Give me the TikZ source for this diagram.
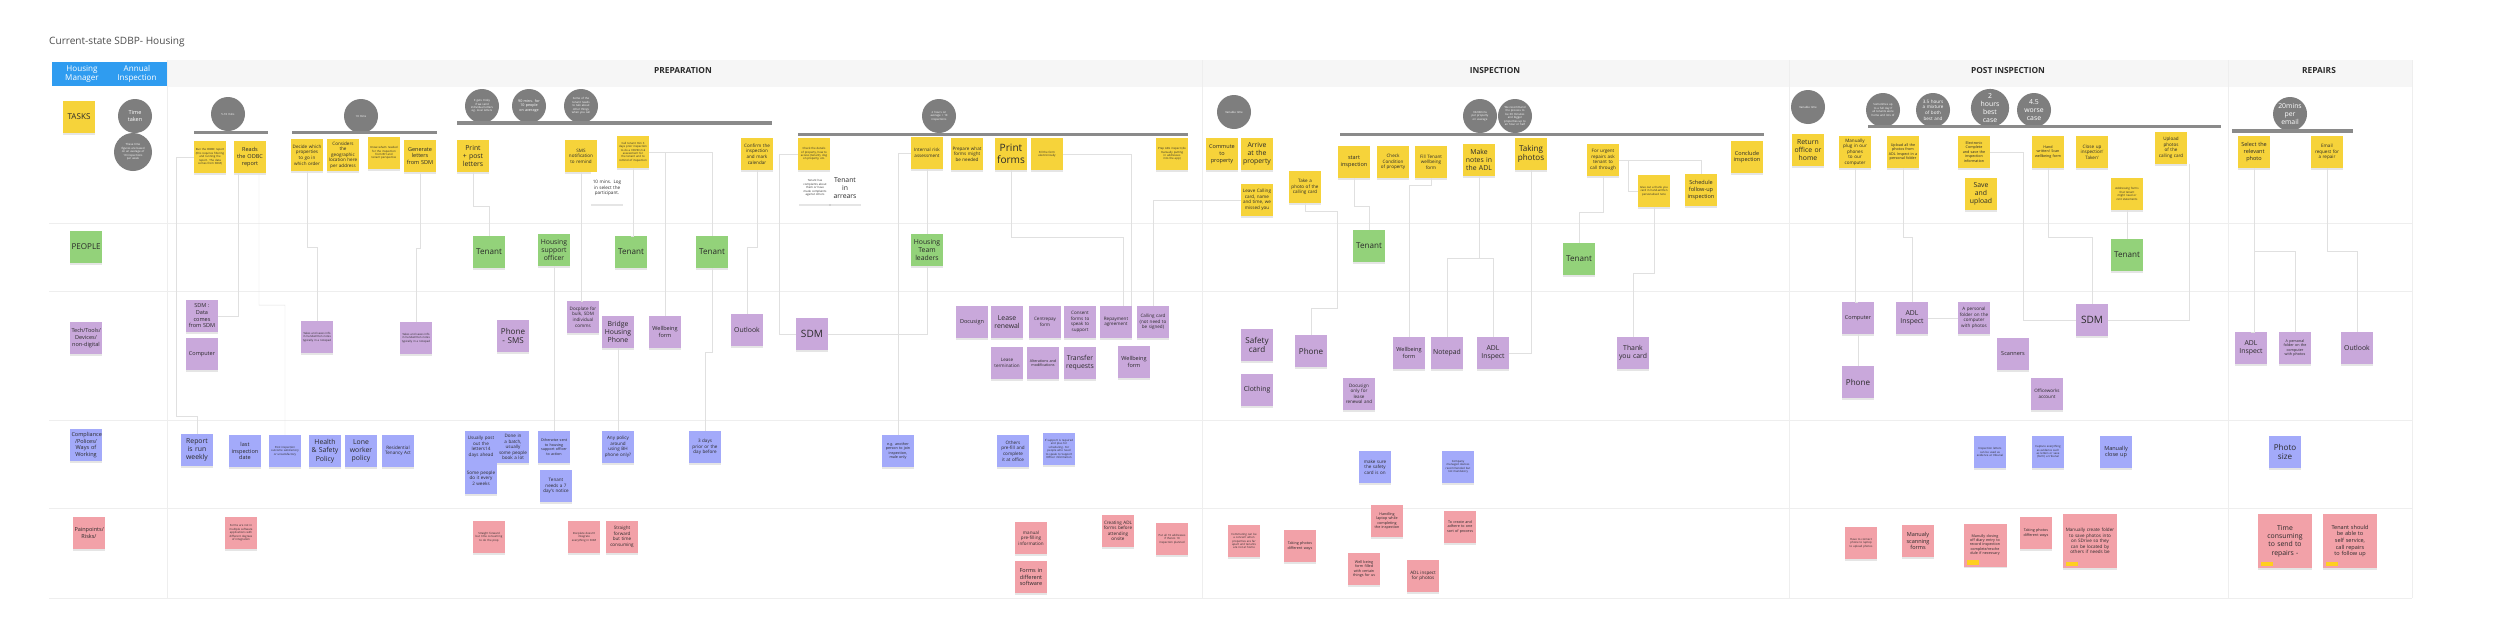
\documentclass[tikz,border=0pt]{standalone}
\usepackage{fontspec}
\setmainfont{Open Sans}
\usetikzlibrary{positioning,shadows}
\hyphenpenalty=10000
\exhyphenpenalty=10000
\definecolor{noteyellow}{HTML}{F6D33A}
\definecolor{notegreen}{HTML}{93D27A}
\definecolor{notepurple}{HTML}{C9A8DB}
\definecolor{noteblue}{HTML}{A3AAFA}
\definecolor{notepink}{HTML}{F2A1A8}
\definecolor{tagyellow}{HTML}{FFCF1F}
\definecolor{timegray}{HTML}{7E7E7E}
\definecolor{bargray}{HTML}{8A8A8A}
\definecolor{headblue}{HTML}{2F9CF0}
\definecolor{bandgray}{HTML}{F6F6F6}
\definecolor{gridgray}{HTML}{EEEEEE}
\definecolor{wiregray}{HTML}{E0E0E0}
\definecolor{inkdark}{HTML}{2A2A2A}
\newcommand{\fsA}{\fontsize{11.5}{13.5}\selectfont}
\newcommand{\fsB}{\fontsize{9.2}{11}\selectfont}
\newcommand{\fsC}{\fontsize{7.8}{9.4}\selectfont}
\newcommand{\fsD}{\fontsize{6.3}{7.6}\selectfont}
\newcommand{\fsE}{\fontsize{5.2}{6.3}\selectfont}
\newcommand{\fsF}{\fontsize{4.2}{5.1}\selectfont}
\newcommand{\fsG}{\fontsize{3.2}{3.9}\selectfont}
\tikzset{
  sticky/.style={minimum width=12.8mm, minimum height=12.8mm, text width=11.6mm, align=center, inner sep=0.4mm, text=inkdark,
    drop shadow={opacity=0.2, shadow xshift=0mm, shadow yshift=-0.7mm}},
  task/.style={sticky, fill=noteyellow},
  who/.style={sticky, fill=notegreen},
  tool/.style={sticky, fill=notepurple},
  policy/.style={sticky, fill=noteblue},
  pain/.style={sticky, fill=notepink},
  memo/.style={sticky, fill=white},
  bignote/.style={minimum width=21.6mm, minimum height=21.6mm, text width=19.6mm},
  timer/.style={circle, fill=timegray, text=white, minimum size=13.6mm, text width=9.6mm, align=center, inner sep=0pt},
  bar/.style={fill=bargray},
  wire/.style={draw=wiregray, line width=0.5pt},
  gridline/.style={draw=gridgray, line width=0.8pt},
  section/.style={font=\fontsize{9.5}{11}\selectfont\bfseries, text=inkdark},
  tagmark/.style={fill=tagyellow, minimum width=4.8mm, minimum height=1.8mm, inner sep=0pt}
}
\begin{document}
\begin{tikzpicture}[x=0.4mm, y=-0.4mm]
  \useasboundingbox (0,0) rectangle (2500,617);
  \fill[white] (0,0) rectangle (2500,617);
  \fill[bandgray] (167,60) rectangle (2412,87);
  \foreach \y in {223,291,420,508,598} \draw[gridline] (49,\y) -- (2412,\y);
  \foreach \x in {167,1202,1789,2228,2412} \draw[gridline] (\x,60) -- (\x,598);

  \node[anchor=west, inner sep=0, text=black!70, font=\fontsize{11.5}{14}\selectfont] (title) at (49,42) {Current-state SDBP- Housing};
  \node[fill=headblue, minimum width=46mm, minimum height=9.6mm, inner sep=0] (header) at (109.5,74) {};
  \node[text=white, align=center, font=\fsB] (role) at (82,74) {Housing\\Manager};
  \node[text=white, align=center, font=\fsB] (journey) at (137,74) {Annual\\Inspection};
  \node[section] (prep) at (683,71) {PREPARATION};
  \node[section] (insp) at (1495,71) {INSPECTION};
  \node[section] (post) at (2008,71) {POST INSPECTION};
  \node[section] (repairs) at (2319,71) {REPAIRS};

  \node[task, font=\fsB] (tasks) at (79,117) {TASKS};
  \node[timer, font=\fsD] (timetaken) at (135,116) {Time taken};
  \node[timer, minimum size=15.2mm, font=\fsG] (timebasis) at (133,152) {These time figures are based on an average of 10 inspections per week};
  \node[who, font=\fsB] (people) at (86,247) {PEOPLE};
  \node[tool, font=\fsD] (techhead) at (86,338) {Tech/Tools/ Devices/ non-digital};
  \node[policy, font=\fsD] (rulehead) at (86,445) {Compliance /Polices/ Ways of Working};
  \node[pain, font=\fsD] (painhead) at (89,533) {Painpoints/ Risks/};

  \node[timer, font=\fsG] (t1) at (228,114) {5-10 mins};
  \node[timer, font=\fsG] (t2) at (361,116) {10 mins};
  \node[timer, font=\fsG] (t3) at (482,106) {It gets tricky if we send individual letters eg. local letters};
  \node[timer, font=\fsF] (t4) at (529,106) {90 mins. for 10 people on average};
  \node[timer, font=\fsG] (t5) at (581,106) {Some of the tenant needs to talk about other things when you call};
  \node[timer, font=\fsG] (t6) at (939,116) {2 hours on average + 10 inspections};
  \node[timer, font=\fsG] (t7) at (1234,112) {Variable time};
  \node[timer, font=\fsG] (t8) at (1480,116) {30-60mins per property on average};
  \node[timer, font=\fsG] (t9) at (1515,116) {We recommend the process to be 30 minutes and bigger properties up to an hour or half};
  \node[timer, font=\fsG] (t10) at (1808,107) {Variable time};
  \node[timer, font=\fsG] (t11) at (1883,110) {Sometimes up to a full day if all tenants were home and lots of};
  \node[timer, font=\fsE] (t12) at (1933,110) {3.5 hours a mixture of both best and};
  \node[timer, font=\fsC] (t13) at (1990,108) {2 hours best case};
  \node[timer, font=\fsC] (t14) at (2034,110) {4.5 worse case};
  \node[timer, font=\fsC] (t15) at (2290,114) {20mins per email};

  \fill[bar] (194,131) rectangle (268,134);
  \fill[bar] (292,131) rectangle (437,134);
  \fill[bar] (457,121) rectangle (772,125);
  \fill[bar] (798,133) rectangle (1188,136);
  \fill[bar] (1340,133) rectangle (1764,136);
  \fill[bar] (1868,125) rectangle (2221,128);
  \fill[bar] (2232,129) rectangle (2353,133);

  \node[task, font=\fsG] (run) at (210,157) {Run the ODBC report (this requires filtering and running the report. The data comes from SDM)};
  \node[task, font=\fsD] (reads) at (250,157) {Reads the ODBC report};
  \node[task, font=\fsE] (decide) at (307,155) {Decide which properties to go in which order};
  \node[task, font=\fsE] (considers) at (343,155) {Considers the geographic location here per address};
  \node[task, font=\fsG] (knowneeds) at (384,153) {Know what's needed for the inspection from BH and tenant perspective};
  \node[task, font=\fsD] (generate) at (420,156) {Generate letters from SDM};
  \node[task, font=\fsC] (printpost) at (473,156) {Print + post letters};
  \node[task, font=\fsE] (sms) at (581,156) {SMS notification to remind};
  \node[task, font=\fsG] (calltenant) at (633,152) {Call tenant min 3 days prior inspection to do a COVID risk assessment for the tenant and to remind of inspection};
  \node[task, font=\fsE] (confirm) at (757,154) {Confirm the inspection and mark calendar};
  \node[task, font=\fsG] (checkdetails) at (814,154) {Check the details of property, how to access (tenant), dog on property, etc.};
  \node[memo, font=\fsE] (loginnote) at (607,188) {10 mins. Log in select the participant.};
  \node[memo, font=\fsG] (complaints) at (815,188) {Tenant has complaints about them or have made complaints against others};
  \node[memo, font=\fsC] (arrears) at (845,188) {Tenant in arrears};
  \node[task, font=\fsE] (riskassess) at (927,153) {Internal risk assessment};
  \node[task, font=\fsE] (prepforms) at (967,154) {Prepare what forms might be needed};
  \node[task, font=\fsA] (printforms) at (1011,154) {Print forms};
  \node[task, font=\fsG] (fillforms) at (1047,154) {Fill the form electronically};
  \node[task, font=\fsG] (prepadl) at (1172,154) {Prep ADL inspect (do manually putting in addresses into the app)};
  \node[task, font=\fsD] (commute) at (1222,154) {Commute to property};
  \node[task, font=\fsC] (arrive) at (1257,154) {Arrive at the property};
  \node[task, font=\fsE] (leavecard) at (1257,200) {Leave Calling card, name and time, we missed you};
  \node[task, font=\fsE] (photocard) at (1305,187) {Take a photo of the calling card};
  \node[task, font=\fsD] (startinsp) at (1354,162) {start inspection};
  \node[task, font=\fsE] (checkcond) at (1393,162) {Check Condition of property};
  \node[task, font=\fsE] (fillwb) at (1431,162) {Fill Tenant wellbeing form};
  \node[task, font=\fsC] (makenotes) at (1479,160) {Make notes in the ADL};
  \node[task, font=\fsB] (takingphotos) at (1531,154) {Taking photos};
  \node[task, font=\fsE] (urgent) at (1603,160) {For urgent repairs ask tenant to call through};
  \node[task, font=\fsG] (thankout) at (1654,191) {Give out a thank you card in hand-written personalised note};
  \node[task, font=\fsD] (schedule) at (1701,190) {Schedule follow-up inspection};
  \node[task, font=\fsD] (conclude) at (1747,157) {Conclude inspection};
  \node[task, font=\fsC] (returnoffice) at (1808,150) {Return office or home};
  \node[task, font=\fsE] (plugin) at (1855,152) {Manually plug in our phones to our computer};
  \node[task, font=\fsF] (uploadall) at (1903,152) {Upload all the photos from ADL Inspect in a personal folder};
  \node[task, font=\fsF] (electronic) at (1974,152) {Electronic Complete and save the inspection information};
  \node[task, font=\fsC] (saveupload) at (1981,194) {Save and upload};
  \node[task, font=\fsF] (handwritten) at (2048,152) {Hand written/ Scan wellbeing form};
  \node[task, font=\fsE] (closeup) at (2092,152) {Close up inspection' Taken'};
  \node[task, font=\fsE] (uploadcard) at (2171,148) {Upload photos of the calling card};
  \node[task, font=\fsG] (addressing) at (2127,194) {Addressing forms that tenant might need or rent statements};
  \node[task, font=\fsD] (selectphoto) at (2254,152) {Select the relevant photo};
  \node[task, font=\fsE] (emailrepair) at (2327,152) {Email request for a repair};

  \node[who, font=\fsB] (tenantA) at (489,252) {Tenant};
  \node[who, font=\fsC] (hso) at (554,250) {Housing support officer};
  \node[who, font=\fsB] (tenantB) at (631,252) {Tenant};
  \node[who, font=\fsB] (tenantC) at (712,252) {Tenant};
  \node[who, font=\fsC] (teamleaders) at (927,250) {Housing Team leaders};
  \node[who, font=\fsB] (tenantD) at (1369,246) {Tenant};
  \node[who, font=\fsB] (tenantE) at (1579,259) {Tenant};
  \node[who, font=\fsB] (tenantF) at (2127,255) {Tenant};

  \node[tool, font=\fsD] (sdmdata) at (202,316) {SDM : Data comes from SDM};
  \node[tool, font=\fsD] (computerA) at (202,354) {Computer};
  \node[tool, font=\fsG] (notebookA) at (317,337) {Takes and saves info in handwritten notes typically in a notepad};
  \node[tool, font=\fsG] (notebookB) at (416,338) {Takes and saves info in handwritten notes typically in a notepad};
  \node[tool, font=\fsB] (phonesms) at (513,336) {Phone - SMS};
  \node[tool, font=\fsE] (docplate) at (583,317) {Docplate for bulk, SDM individual comms};
  \node[tool, font=\fsC] (bhphone) at (618,332) {Bridge Housing Phone};
  \node[tool, font=\fsD] (wbformA) at (665,332) {Wellbeing form};
  \node[tool, font=\fsC] (outlookA) at (747,330) {Outlook};
  \node[tool, font=\fsA] (sdmA) at (812,334) {SDM};
  \node[tool, font=\fsD] (docusign) at (972,322) {Docusign};
  \node[tool, font=\fsC] (leaserenew) at (1007,322) {Lease renewal};
  \node[tool, font=\fsE] (centrepay) at (1045,322) {Centrepay form};
  \node[tool, font=\fsE] (consent) at (1080,322) {Consent forms to speak to support};
  \node[tool, font=\fsE] (repayment) at (1116,322) {Repayment agreement};
  \node[tool, font=\fsE] (callingcard) at (1153,322) {Calling card (not need to be signed)};
  \node[tool, font=\fsE] (leaseterm) at (1007,363) {Lease termination};
  \node[tool, font=\fsF] (alterations) at (1043,363) {Alterations and modifications};
  \node[tool, font=\fsC] (transfer) at (1080,363) {Transfer requests};
  \node[tool, font=\fsD] (wbformB) at (1134,362) {Wellbeing form};
  \node[tool, font=\fsB] (safetycard) at (1257,345) {Safety card};
  \node[tool, font=\fsC] (clothing) at (1257,390) {Clothing};
  \node[tool, font=\fsB] (phoneB) at (1311,351) {Phone};
  \node[tool, font=\fsE] (docusignonly) at (1359,394) {Docusign only for lease renewal and};
  \node[tool, font=\fsD] (wbformC) at (1409,353) {Wellbeing form};
  \node[tool, font=\fsC] (notepad) at (1447,353) {Notepad};
  \node[tool, font=\fsC] (adlA) at (1493,353) {ADL Inspect};
  \node[tool, font=\fsC] (thankcard) at (1633,353) {Thank you card};
  \node[tool, font=\fsD] (computerB) at (1858,318) {Computer};
  \node[tool, font=\fsC] (adlB) at (1912,318) {ADL Inspect};
  \node[tool, font=\fsE] (folderA) at (1974,318) {A personal folder on the computer with photos};
  \node[tool, font=\fsA] (sdmB) at (2092,320) {SDM};
  \node[tool, font=\fsB] (phoneC) at (1858,382) {Phone};
  \node[tool, font=\fsD] (scanners) at (2013,354) {Scanners};
  \node[tool, font=\fsE] (officeworks) at (2047,394) {Officeworks account};
  \node[tool, font=\fsC] (adlC) at (2251,348) {ADL Inspect};
  \node[tool, font=\fsF] (folderB) at (2295,348) {A personal folder on the computer with photos};
  \node[tool, font=\fsC] (outlookB) at (2357,348) {Outlook};

  \node[policy, font=\fsC] (reportweekly) at (197,450) {Report is run weekly};
  \node[policy, font=\fsD] (lastinsp) at (245,451) {last inspection date};
  \node[policy, font=\fsG] (postoutcome) at (285,451) {Post inspection outcome satisfactory or unsatisfactory};
  \node[policy, font=\fsC] (whs) at (325,451) {Health \& Safety Policy};
  \node[policy, font=\fsC] (loneworker) at (361,451) {Lone worker policy};
  \node[policy, font=\fsE] (rta) at (398,451) {Residential Tenancy Act};
  \node[policy, font=\fsE] (postout) at (481,447) {Usually post out the letters14 days ahead};
  \node[policy, font=\fsE] (batch) at (513,447) {Done in a batch, usually some people book a lot};
  \node[policy, font=\fsE] (fortnight) at (481,478) {Some people do it every 2 weeks};
  \node[policy, font=\fsF] (otherwise) at (554,447) {Otherwise sent to housing support officer to action};
  \node[policy, font=\fsE] (sevenday) at (556,486) {Tenant needs a 7 day's notice};
  \node[policy, font=\fsE] (bhpolicy) at (618,447) {Any policy around using BH phone only?};
  \node[policy, font=\fsE] (threedays) at (705,447) {3 days prior or the day before};
  \node[policy, font=\fsF] (anotherperson) at (898,451) {e.g. another person to join inspection, male only};
  \node[policy, font=\fsE] (prefill) at (1013,451) {Others pre-fill and complete it at office};
  \node[policy, font=\fsG] (supportreq) at (1059,449) {If support is required and plus for scheduling. For people who need to speak to Support Officer information};
  \node[policy, font=\fsE] (safetyon) at (1375,467) {make sure the safety card is on};
  \node[policy, font=\fsG] (managed) at (1458,467) {Company managed devices recommended but not mandatory};
  \node[policy, font=\fsG] (evidence) at (1990,452) {Inspection letters can be used as evidence at tribunal};
  \node[policy, font=\fsG] (capture) at (2048,452) {Capture everything as evidence such as letters or save (form) a tribunal};
  \node[policy, font=\fsD] (closeupman) at (2116,452) {Manually close up};
  \node[policy, font=\fsB] (photosize) at (2285,452) {Photo size};

  \node[pain, font=\fsG] (multiapps) at (241,533) {Forms are not in multiple software applications with different degrees of integration};
  \node[pain, font=\fsG] (prepslow) at (489,537) {Straight forward but time consuming to do the prep};
  \node[pain, font=\fsG] (docplatepain) at (584,537) {Docplate doesn't integrate everything in SDM};
  \node[pain, font=\fsE] (slowcomms) at (622,537) {Straight forward but time consuming};
  \node[pain, font=\fsE] (prefillpain) at (1031,538) {manual pre-filling information};
  \node[pain, font=\fsD] (formspain) at (1031,577) {Forms in different software};
  \node[pain, font=\fsE] (adlforms) at (1118,531) {Creating ADL forms before attending onsite};
  \node[pain, font=\fsG] (tenaddr) at (1172,539) {Put all 10 addresses if there's 10 inspection planned};
  \node[pain, font=\fsG] (commutepain) at (1244,541) {Commuting can be a concern when properties are far apart and tenants are not at home};
  \node[pain, font=\fsF] (photoways) at (1300,546) {Taking photos different ways};
  \node[pain, font=\fsF] (laptop) at (1387,521) {Handling laptop while completing the inspection};
  \node[pain, font=\fsF] (wbfilled) at (1364,569) {Well being form filled with certain things for us};
  \node[pain, font=\fsE] (adlphotos) at (1423,576) {ADL inspect for photos};
  \node[pain, font=\fsF] (oneprocess) at (1460,527) {To create and adhere to one sort of process};
  \node[pain, font=\fsG] (connectphone) at (1861,543) {Have to connect phone to laptop to upload photos};
  \node[pain, font=\fsD] (scanning) at (1918,541) {Manualy scanning forms};
  \node[pain, font=\fsF, minimum width=17.2mm, minimum height=17.2mm, text width=15.6mm] (diary) at (1985,545) {Manully closing off diary entry to record inspection complete/resche dule if necessary};
  \node[pain, font=\fsF] (photoways2) at (2036,533) {Taking photos different ways};
  \node[pain, bignote, font=\fsE] (sdrive) at (2090,541) {Manually create folder to save photos into on SDrive so they can be located by others if needs be};
  \node[pain, bignote, font=\fsC] (repairslow) at (2285,541) {Time consuming to send to repairs -};
  \node[pain, bignote, font=\fsD] (selfservice) at (2350,541) {Tenant should be able to self service, call repairs to follow up};
  \node[tagmark, above right=0.8mm and 1.2mm of diary.south west] (diarytag) {};
  \node[tagmark, above right=0.8mm and 1.2mm of sdrive.south west] (sdrivetag) {};
  \node[tagmark, above right=0.8mm and 1.2mm of repairslow.south west] (repairtag) {};
  \node[tagmark, above right=0.8mm and 1.2mm of selfservice.south west] (selftag) {};

  \draw[wire] (run.west) -- ++(-18,0) |- ([yshift=7mm]reportweekly.north) -- (reportweekly.north);
  \draw[wire] ([xshift=-4.8mm]reads.south) |- (sdmdata.east);
  \draw[wire] ([xshift=3.6mm]reads.south) |- ++(26,132) -- (postoutcome.north);
  \draw[wire] (decide.south) |- ++(10,76) -- (notebookA.north);
  \draw[wire] (generate.south) |- ++(-4,76) -- (notebookB.north);
  \draw[wire] (printpost.south) |- ++(16,34) -- (tenantA.north);
  \draw[wire] (hso.south) -- (otherwise.north);
  \draw[wire] (sms.south) |- (docplate.north);
  \draw[wire] (calltenant.south) |- (tenantB.north);
  \draw[wire] (calltenant.east) -| (wbformA.north);
  \draw[wire] (calltenant.east) -| (tenantC.north);
  \draw[wire] (tenantC.south) |- ++(-7,84) -- (threedays.north);
  \draw[wire] (bhphone.south) -- (bhpolicy.north);
  \draw[wire] (confirm.south) |- ++(-10,77) -- (outlookA.north);
  \draw[wire] (checkdetails.west) -- ++(-19,0) |- (sdmA.west);
  \draw[wire] (riskassess.south) -- (teamleaders.north);
  \draw[wire] (riskassess.west) -| (anotherperson.north);
  \draw[wire] (teamleaders.south) |- (sdmA.east);
  \draw[wire] (printforms.south) |- ([xshift=2.8mm]repayment.north |- 0,237) -- ([xshift=2.8mm]repayment.north);
  \draw[wire] (fillforms.east) -| ([xshift=6mm]repayment.north);
  \draw[wire] (leavecard.west) -| (callingcard.north);
  \draw[wire] (startinsp.south) |- ++(15,28) -- (tenantD.north);
  \draw[wire] (photocard.south) |- ++(32,8) |- ++(-26,97) -- (phoneB.north);
  \draw[wire] (fillwb.south) |- ++(-22,7) -- (wbformC.north);
  \draw[wire] (makenotes.south) |- ++(-32,82) -- (notepad.north);
  \draw[wire] (makenotes.south) |- ++(14,82) -- (adlA.north);
  \draw[wire] (takingphotos.south) |- (adlA.east);
  \draw[wire] (urgent.south) |- ++(-24,36) -- (tenantE.north);
  \draw[wire] (urgent.east) -| (schedule.north);
  \draw[wire] (urgent.east) -- ++(9,0) |- (thankout.west);
  \draw[wire] (thankout.south) |- ++(-21,66) -- (thankcard.north);
  \draw[wire] (plugin.south) |- (computerB.north);
  \draw[wire] (computerB.south) -- (phoneC.north);
  \draw[wire] (uploadall.south) |- ++(9,69) -- (adlB.north);
  \draw[wire] (adlB.east) -- (folderA.west);
  \draw[wire] (electronic.east) -- ++(33,0) |- (sdmB.west);
  \draw[wire] (handwritten.south) |- ++(44,69) -- (sdmB.north);
  \draw[wire] ([xshift=7.2mm]uploadcard.south) |- (sdmB.east);
  \draw[wire] (addressing.south) -- (tenantF.north);
  \draw[wire] (selectphoto.south) |- (adlC.north);
  \draw[wire] (selectphoto.south) |- ++(41,83) -- (folderB.north);
  \draw[wire] (emailrepair.south) |- ++(30,83) -- (outlookB.north);
\end{tikzpicture}
\end{document}
